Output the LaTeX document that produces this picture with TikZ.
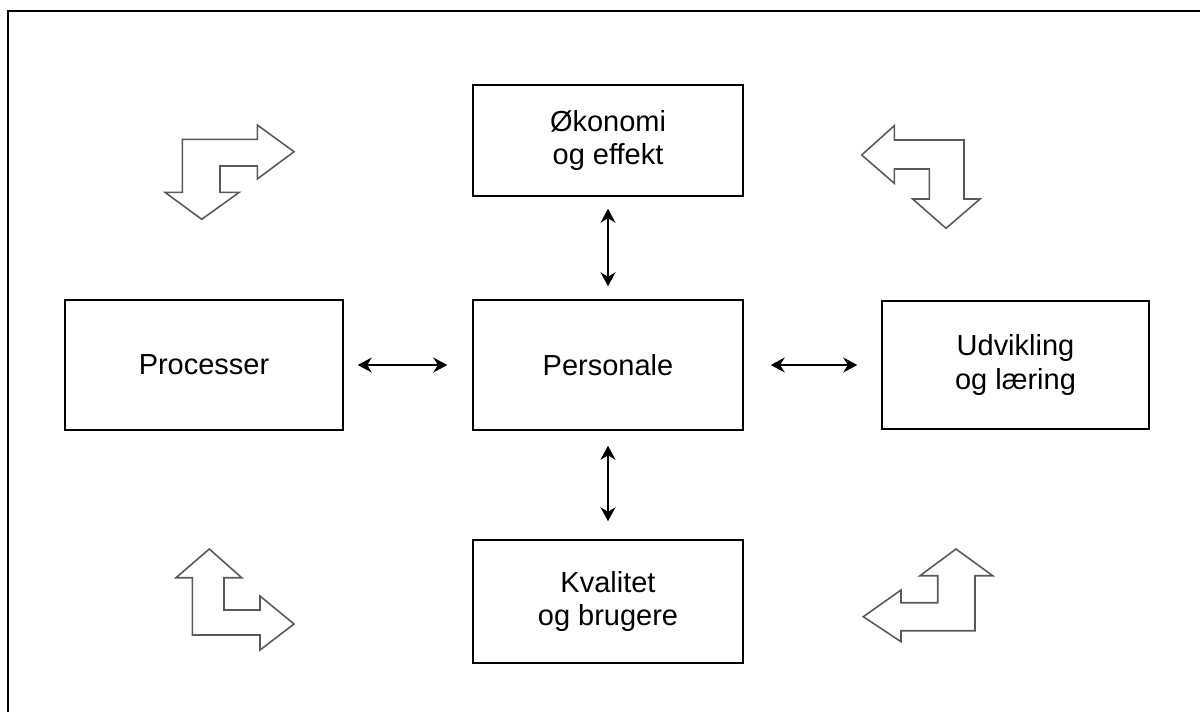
\documentclass[tikz,border=0pt]{standalone}
\usepackage{fontspec}
\setmainfont{Liberation Sans}
\usetikzlibrary{arrows.meta}
\tikzset{
  blok/.style={draw, line width=0.9pt, align=center, inner sep=0pt,
    font=\fontsize{16.5}{19}\selectfont},
  pil/.style={line width=0.8pt, {Stealth[length=0.28cm,width=0.3cm]}-{Stealth[length=0.28cm,width=0.3cm]}},
  hjoernepil/.style={draw=black!65, line width=0.9pt, line join=miter}
}
\begin{document}
\begin{tikzpicture}[x=0.02cm, y=-0.02cm]
        \useasboundingbox (0,0) rectangle (1200,711);
        % ramme
        \draw[line width=1.2pt] (8,720) -- (8,11) -- (1210,11);
        % kasser
        \node[blok, minimum width=5.4cm, minimum height=2.22cm] (oekonomi) at (608,140.5) {Økonomi\\og effekt};
        \node[blok, minimum width=5.4cm, minimum height=2.6cm] (personale) at (608,365) {Personale};
        \node[blok, minimum width=5.56cm, minimum height=2.6cm] (processer) at (204,365) {Processer};
        \node[blok, minimum width=5.34cm, minimum height=2.56cm] (udvikling) at (1015.5,365) {Udvikling\\og læring};
        \node[blok, minimum width=5.4cm, minimum height=2.46cm] (kvalitet) at (608,601.5) {Kvalitet\\og brugere};
        % pile
        \draw[pil, shorten <=0.24cm, shorten >=0.26cm] (oekonomi.south) -- (personale.north);
        \draw[pil, shorten <=0.3cm, shorten >=0.36cm] (personale.south) -- (kvalitet.north);
        \draw[pil, shorten <=0.28cm, shorten >=0.5cm] (processer.east) -- (personale.west);
        \draw[pil, shorten <=0.54cm, shorten >=0.48cm] (personale.east) -- (udvikling.west);
        % hjoerne, oppe til venstre
        \draw[hjoernepil] (182.3,139.3) -- (257.3,139.3) -- (257.3,125) -- (294,151.7) -- (257.3,179)
          -- (257.3,166) -- (220,166) -- (220,192.3) -- (239.3,192.3) -- (201.7,219.3)
          -- (165,192.3) -- (182.3,192.3) -- cycle;
        % hjoerne, oppe til hoejre
        \draw[hjoernepil] (861.7,155) -- (894.3,125.7) -- (894.3,140) -- (964,140) -- (964,199)
          -- (980,199) -- (946,228.3) -- (912.7,199) -- (929.3,199) -- (929.3,169)
          -- (894.3,169) -- (894.3,183.3) -- cycle;
        % hjoerne, nede til venstre
        \draw[hjoernepil] (209.3,549) -- (241.7,577.7) -- (224,577.7) -- (224,610) -- (260,610)
          -- (260,596) -- (294,624) -- (260,650) -- (260,635) -- (192.3,635)
          -- (192.3,577.7) -- (176,577.7) -- cycle;
        % hjoerne, nede til hoejre
        \draw[hjoernepil] (956,549) -- (992.7,575.7) -- (975,575.7) -- (975,630.7) -- (901,630.7)
          -- (901,641.7) -- (863.3,616.7) -- (901,590) -- (901,602.7) -- (937.7,602.7)
          -- (937.7,575.7) -- (920,575.7) -- cycle;
\end{tikzpicture}
\end{document}
